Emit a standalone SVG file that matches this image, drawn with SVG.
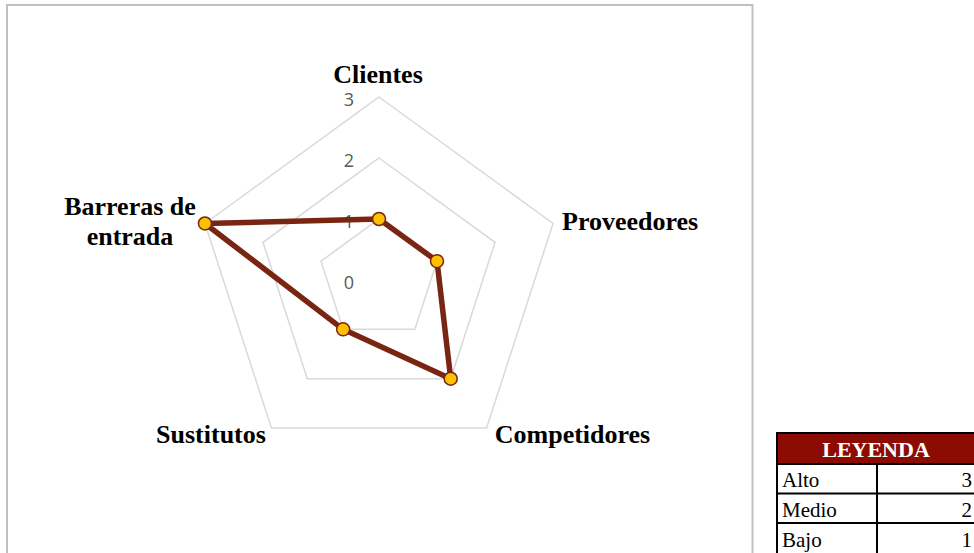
<svg xmlns="http://www.w3.org/2000/svg" width="974" height="553" viewBox="0 0 974 553">
  <style>
    .grid { fill: none; stroke: #d9d9d9; stroke-width: 1.5; }
    .axis { font-family: "Open Sans", "Liberation Sans", sans-serif; font-size: 18px; fill: #595959; text-anchor: middle; }
    .cat { font-family: "Liberation Serif", serif; font-size: 26px; font-weight: bold; fill: #000; }
    .series { fill: none; stroke: #7a2412; stroke-width: 5.5; stroke-linejoin: round; }
    .mk { fill: #ffc000; stroke: #7a2412; stroke-width: 1.5; }
    .cell { font-family: "Liberation Serif", serif; font-size: 21px; fill: #000; }
    .tb { stroke: #000; stroke-width: 2; fill: none; }
  </style>
  <rect x="0" y="0" width="974" height="553" fill="#ffffff"/>
  <g id="chart-frame">
    <rect x="7" y="5" width="745.5" height="560" fill="#ffffff" stroke="#c0c0c0" stroke-width="2"/>
  </g>
  <g id="grid">
    <polygon class="grid" points="379,219 437.01,261.15 414.86,329.35 343.14,329.35 320.99,261.15"/>
    <polygon class="grid" points="379,158 495.03,242.3 450.71,378.7 307.29,378.7 262.97,242.3"/>
    <polygon class="grid" points="379,97 553.04,223.45 486.57,428.05 271.43,428.05 204.96,223.45"/>
  </g>
  <g id="axis-labels">
    <text class="axis" x="349" y="106">3</text>
    <text class="axis" x="349" y="167">2</text>
    <text class="axis" x="349" y="228">1</text>
    <text class="axis" x="349" y="289">0</text>
  </g>
  <g id="connectors">
    <polygon class="series" points="379,219 437.01,261.15 450.71,378.7 343.14,329.35 204.96,223.45"/>
  </g>
  <g id="node-clientes">
    <circle class="mk" cx="379" cy="219" r="6.5"/>
    <text class="cat" x="378" y="83" text-anchor="middle">Clientes</text>
  </g>
  <g id="node-proveedores">
    <circle class="mk" cx="437.01" cy="261.15" r="6.5"/>
    <text class="cat" x="562" y="230">Proveedores</text>
  </g>
  <g id="node-competidores">
    <circle class="mk" cx="450.71" cy="378.7" r="6.5"/>
    <text class="cat" x="572.5" y="443" text-anchor="middle">Competidores</text>
  </g>
  <g id="node-sustitutos">
    <circle class="mk" cx="343.14" cy="329.35" r="6.5"/>
    <text class="cat" x="211" y="443" text-anchor="middle">Sustitutos</text>
  </g>
  <g id="node-barreras">
    <circle class="mk" cx="204.96" cy="223.45" r="6.5"/>
    <text class="cat" x="130" y="215" text-anchor="middle">Barreras de</text>
    <text class="cat" x="130" y="245" text-anchor="middle">entrada</text>
  </g>
  <g id="legend">
    <rect x="777" y="433" width="210" height="31" fill="#8c0c03"/>
    <text x="876" y="457" text-anchor="middle" font-family="Liberation Serif, serif" font-size="22" font-weight="bold" fill="#ffffff">LEYENDA</text>
    <rect class="tb" x="777" y="433" width="210" height="130"/>
    <line class="tb" x1="777" y1="464" x2="987" y2="464"/>
    <line class="tb" x1="777" y1="493.5" x2="987" y2="493.5"/>
    <line class="tb" x1="777" y1="523" x2="987" y2="523"/>
    <line class="tb" x1="877" y1="464" x2="877" y2="553"/>
    <text class="cell" x="782" y="487">Alto</text>
    <text class="cell" x="972" y="487" text-anchor="end">3</text>
    <text class="cell" x="782" y="517">Medio</text>
    <text class="cell" x="972" y="517" text-anchor="end">2</text>
    <text class="cell" x="782" y="547">Bajo</text>
    <text class="cell" x="972" y="547" text-anchor="end">1</text>
  </g>
</svg>
